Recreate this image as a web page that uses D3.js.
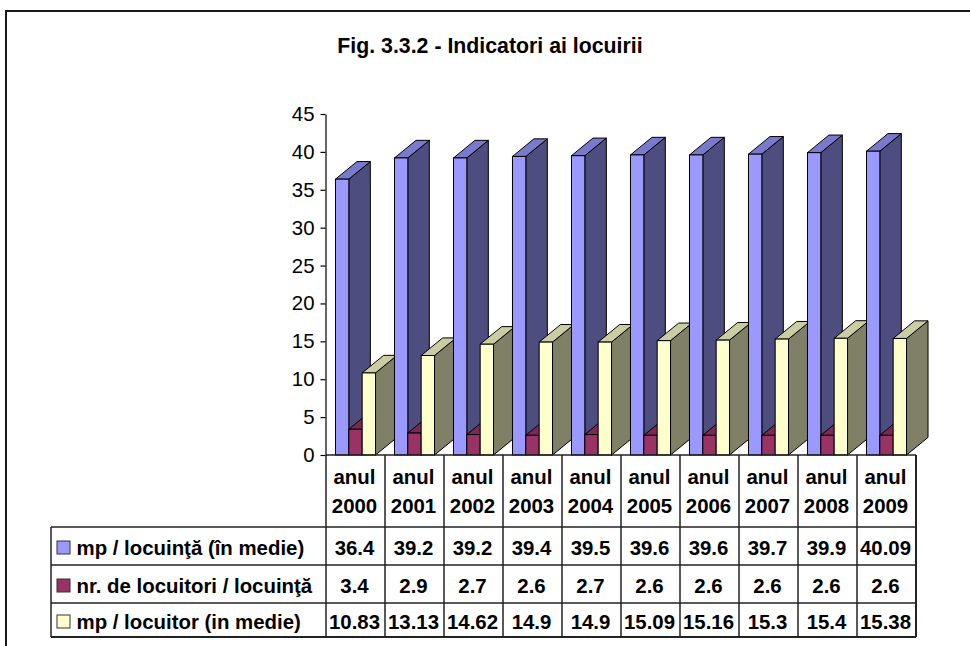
<!DOCTYPE html>
<html>
<head>
<meta charset="utf-8">
<script src="https://cdn.jsdelivr.net/npm/d3@7"></script>
<style>
  html, body { margin: 0; padding: 0; background: #fff; }
  svg { display: block; font-family: "Liberation Sans", Arial, sans-serif; }
</style>
</head>
<body>
<svg id="chart" width="970" height="646"></svg>
<script>
// ---- data ----
const categories = ["2000","2001","2002","2003","2004","2005","2006","2007","2008","2009"];
const categoryPrefix = "anul";
const seriesNames = ["mp / locuinţă (în medie)", "nr. de locuitori / locuinţă", "mp / locuitor (in medie)"];
const mpPerDwelling   = [36.4, 39.2, 39.2, 39.4, 39.5, 39.6, 39.6, 39.7, 39.9, 40.09];
const personsPerDwelling = [3.4, 2.9, 2.7, 2.6, 2.7, 2.6, 2.6, 2.6, 2.6, 2.6];
const mpPerPerson     = [10.83, 13.13, 14.62, 14.9, 14.9, 15.09, 15.16, 15.3, 15.4, 15.38];
const yTicks = [0, 5, 10, 15, 20, 25, 30, 35, 40, 45];
const title = "Fig. 3.3.2 - Indicatori ai locuirii";

const seriesValues = [mpPerDwelling, personsPerDwelling, mpPerPerson];
const seriesColors = [
  { front: "#9999FF", side: "#4D4D80", top: "#7A7ACC" },
  { front: "#993366", side: "#4D1A33", top: "#7A2952" },
  { front: "#FFFFCC", side: "#808066", top: "#CCCCA3" }
];

// ---- layout ----
const svg = d3.select("#chart");
const font = '"Liberation Sans", Arial, sans-serif';
const tableLeft = 326, tableRight = 916;
const legendLeft = 51;
const y0 = 455, yTop = 114;
const depthX = 21.5, depthY = -17.6;
const fs = 20.4;

// outer frame
svg.append("rect").attr("x", 6).attr("y", 11).attr("width", 1000).attr("height", 700)
  .attr("fill", "none").attr("stroke", "#1a1a1a").attr("stroke-width", 2);

// title
svg.append("text").attr("x", 490).attr("y", 53).attr("text-anchor", "middle")
  .attr("font-size", 21.3).attr("font-weight", "bold").attr("font-family", font)
  .attr("fill", "#000").text(title);

// scales
const y = d3.scaleLinear().domain([0, 45]).range([y0, yTop]);
const x = d3.scaleBand().domain(categories).range([tableLeft, tableRight]);
const xs = d3.scaleBand().domain(d3.range(seriesNames.length)).range([0, x.bandwidth()])
  .paddingInner(0).paddingOuter(0.71);

// bars (drawn left to right, series in order so later faces overlap)
const barsG = svg.append("g");
categories.forEach((c, i) => {
  seriesValues.forEach((vals, s) => {
    const v = vals[i];
    const xl = x(c) + xs(s);
    const w = xs.bandwidth();
    const xr = xl + w;
    const yt = y(v);
    const yb = y(0);
    const col = seriesColors[s];
    barsG.append("path")
      .attr("d", `M${xr},${yt} L${xr + depthX},${yt + depthY} L${xr + depthX},${yb + depthY} L${xr},${yb} Z`)
      .attr("fill", col.side).attr("stroke", "#000").attr("stroke-width", 1).attr("stroke-linejoin", "round");
    barsG.append("path")
      .attr("d", `M${xl},${yt} L${xl + depthX},${yt + depthY} L${xr + depthX},${yt + depthY} L${xr},${yt} Z`)
      .attr("fill", col.top).attr("stroke", "#000").attr("stroke-width", 1).attr("stroke-linejoin", "round");
    barsG.append("rect")
      .attr("x", xl).attr("y", yt).attr("width", w).attr("height", yb - yt)
      .attr("fill", col.front).attr("stroke", "#000").attr("stroke-width", 1);
  });
});

// y axis
const axis = d3.axisLeft(y).tickValues(yTicks).tickSize(5).tickSizeOuter(0).tickPadding(6);
const axG = svg.append("g").attr("transform", "translate(325.5,0)").call(axis);
axG.select(".domain").attr("stroke", "#000").attr("stroke-width", 1.2);
axG.selectAll(".tick line").attr("stroke", "#000").attr("stroke-width", 1.2);
axG.selectAll(".tick text").attr("font-size", fs).attr("font-family", font).attr("fill", "#000");

// ---- data table ----
const tbl = svg.append("g");
const lineCol = "#222";
const headerTop = y0;
const rowTops = [527, 565, 603];
const rowHeights = [38, 38, 34];
const tableBottom = 637;

tbl.append("line").attr("x1", tableLeft).attr("x2", tableRight).attr("y1", headerTop).attr("y2", headerTop)
  .attr("stroke", lineCol).attr("stroke-width", 1.5);
rowTops.concat([tableBottom]).forEach(yy => {
  tbl.append("line").attr("x1", legendLeft).attr("x2", tableRight).attr("y1", yy).attr("y2", yy)
    .attr("stroke", lineCol).attr("stroke-width", yy === tableBottom ? 2 : 1.5);
});
categories.forEach(c => {
  tbl.append("line").attr("x1", x(c)).attr("x2", x(c)).attr("y1", headerTop).attr("y2", tableBottom)
    .attr("stroke", lineCol).attr("stroke-width", 1.5);
});
tbl.append("line").attr("x1", tableRight).attr("x2", tableRight).attr("y1", headerTop).attr("y2", tableBottom)
  .attr("stroke", lineCol).attr("stroke-width", 2);
tbl.append("line").attr("x1", legendLeft).attr("x2", legendLeft).attr("y1", rowTops[0]).attr("y2", tableBottom)
  .attr("stroke", lineCol).attr("stroke-width", 1.5);

categories.forEach(c => {
  const cx = x(c) + x.bandwidth() / 2 - 1;
  tbl.append("text").attr("x", cx).attr("y", 484).attr("text-anchor", "middle")
    .attr("font-size", fs).attr("font-weight", "bold").attr("font-family", font).text(categoryPrefix);
  tbl.append("text").attr("x", cx).attr("y", 513).attr("text-anchor", "middle")
    .attr("font-size", fs).attr("font-weight", "bold").attr("font-family", font).text(c);
});

seriesValues.forEach((vals, s) => {
  const cy = rowTops[s] + rowHeights[s] / 2;
  tbl.append("rect").attr("x", 57).attr("y", cy - 5).attr("width", 13).attr("height", 13)
    .attr("fill", seriesColors[s].front).attr("stroke", "#333").attr("stroke-width", 1);
  tbl.append("text").attr("x", 76.5).attr("y", cy + 9).attr("font-size", fs).attr("font-weight", "bold")
    .attr("font-family", font).text(seriesNames[s]);
  vals.forEach((v, i) => {
    tbl.append("text").attr("x", x(categories[i]) + x.bandwidth() / 2 - 1).attr("y", cy + 9)
      .attr("text-anchor", "middle").attr("font-size", fs).attr("font-weight", "bold")
      .attr("font-family", font).text(String(v));
  });
});
</script>
</body>
</html>
